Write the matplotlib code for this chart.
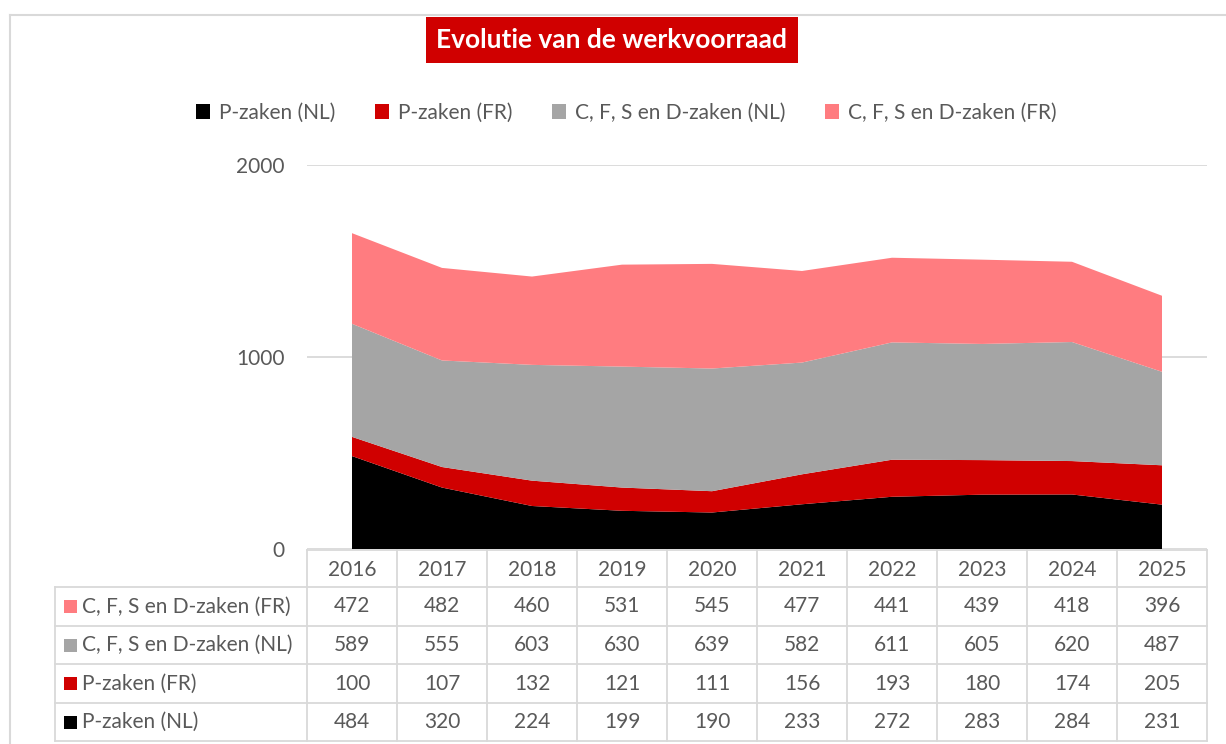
import numpy as np
import matplotlib.pyplot as plt
from matplotlib.patches import Patch, Rectangle
from matplotlib.lines import Line2D
from matplotlib.transforms import blended_transform_factory

jaren = ['2016', '2017', '2018', '2019', '2020', '2021', '2022', '2023', '2024', '2025']
p_nl = [484, 320, 224, 199, 190, 233, 272, 283, 284, 231]
p_fr = [100, 107, 132, 121, 111, 156, 193, 180, 174, 205]
cfsd_nl = [589, 555, 603, 630, 639, 582, 611, 605, 620, 487]
cfsd_fr = [472, 482, 460, 531, 545, 477, 441, 439, 418, 396]

namen = ['P-zaken (NL)', 'P-zaken (FR)', 'C, F, S en D-zaken (NL)', 'C, F, S en D-zaken (FR)']
kleuren = ['#000000', '#d00000', '#a5a5a5', '#ff7c80']

plt.rcParams['font.family'] = ['Lato', 'DejaVu Sans']
tekst = '#595959'
lijn = '#d9d9d9'

W, H = 1226, 744
fig = plt.figure(figsize=(W / 100, H / 100), dpi=100)

def fx(px):
    return px / W

def fy(py):
    return 1 - py / H

# plot area
ax = fig.add_axes([fx(307), fy(549), fx(1207) - fx(307), fy(165) - fy(549)])
x = np.arange(len(jaren))
ax.stackplot(x, p_nl, p_fr, cfsd_nl, cfsd_fr, colors=kleuren, labels=namen)
ax.set_xlim(-0.5, len(jaren) - 0.5)
ax.set_ylim(0, 2000)
ax.set_yticks([0, 1000, 2000])
ax.set_xticks([])
ax.tick_params(axis='y', length=0, pad=16, labelsize=15, labelcolor=tekst)
ax.grid(axis='y', color=lijn, linewidth=1.3)
ax.set_axisbelow(True)
for s in ax.spines.values():
    s.set_visible(False)

# chart border
fig.add_artist(Line2D([fx(10), fx(1226)], [fy(15), fy(15)], color=lijn, lw=1.5, transform=fig.transFigure))
fig.add_artist(Line2D([fx(10), fx(10)], [fy(15), fy(744)], color=lijn, lw=1.5, transform=fig.transFigure))

# title
fig.text(0.5 * (fx(421) + fx(803)), fy(40), 'Evolutie van de werkvoorraad', ha='center', va='center',
         color='white', fontsize=19, fontweight='bold',
         bbox=dict(boxstyle='square,pad=0.4', facecolor='#d00000', edgecolor='none'))

# legend
handles = [Patch(facecolor=c, edgecolor='none') for c in kleuren]
fig.legend(handles, namen, loc='center', bbox_to_anchor=(fx(626), fy(113)), ncol=4, frameon=False,
           fontsize=15, labelcolor=tekst, handlelength=0.7, handleheight=0.7, handletextpad=0.4,
           columnspacing=1.9)

# data table under the plot
tr = blended_transform_factory(ax.transData, fig.transFigure)
rijen = [550, 587, 626, 664, 703, 741]
links = -0.5 - (307 - 55) / 90.0
rechts = len(jaren) - 0.5

def hlijn(x0, x1, py):
    fig.add_artist(Line2D([x0, x1], [fy(py), fy(py)], color=lijn, lw=1.3, transform=tr))

def vlijn(xx, py0, py1):
    fig.add_artist(Line2D([xx, xx], [fy(py0), fy(py1)], color=lijn, lw=1.3, transform=tr))

hlijn(-0.5, rechts, rijen[0])
for py in rijen[1:]:
    hlijn(links, rechts, py)
for i in range(len(jaren) + 1):
    vlijn(i - 0.5, rijen[0], rijen[-1])
vlijn(links, rijen[1], rijen[-1])

for i, j in enumerate(jaren):
    fig.text(i, fy((rijen[0] + rijen[1]) / 2 + 2), j, transform=tr, ha='center', va='center',
             fontsize=15, color=tekst)

tabel = [(namen[3], cfsd_fr, kleuren[3]), (namen[2], cfsd_nl, kleuren[2]),
         (namen[1], p_fr, kleuren[1]), (namen[0], p_nl, kleuren[0])]
for r, (naam, waarden, kleur) in enumerate(tabel):
    yc = fy((rijen[r + 1] + rijen[r + 2]) / 2)
    fig.add_artist(Rectangle((fx(64), yc - 6.5 / H), 13 / W, 13 / H, facecolor=kleur,
                             edgecolor='none', transform=fig.transFigure))
    fig.text(fx(82), yc, naam, ha='left', va='center', fontsize=15, color=tekst)
    for i, v in enumerate(waarden):
        fig.text(i, yc, str(v), transform=tr, ha='center', va='center', fontsize=15, color=tekst)

fig.savefig('out.png', dpi=100)
